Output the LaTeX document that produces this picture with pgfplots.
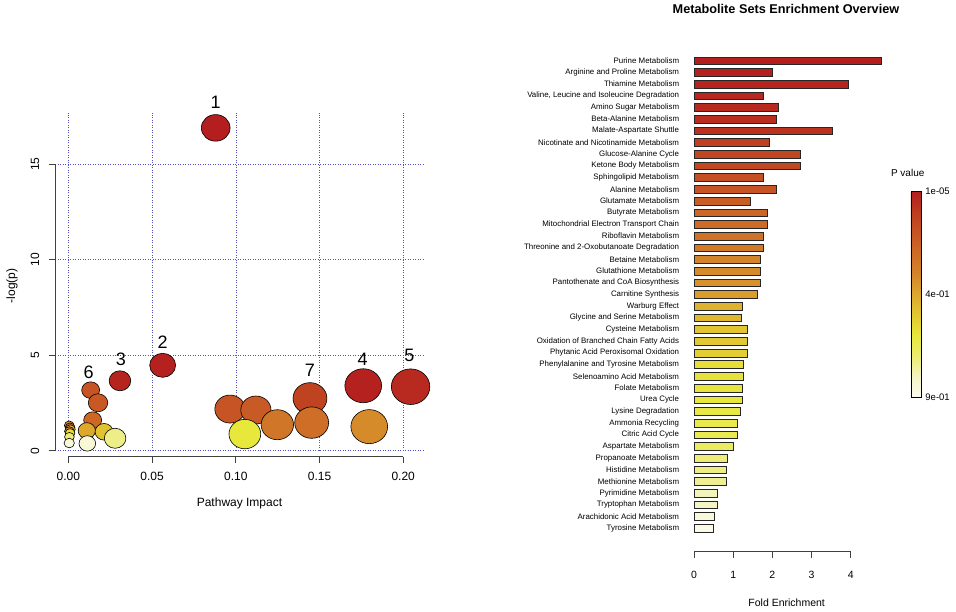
\documentclass[border=0pt]{standalone}
\usepackage{pgfplots}
\pgfplotsset{compat=1.18}
\usepackage{fontspec}
\setmainfont{Liberation Sans}
\definecolor{c0}{RGB}{253,252,240}
\definecolor{c1}{RGB}{244,244,196}
\definecolor{c2}{RGB}{236,236,112}
\definecolor{c3}{RGB}{232,232,60}
\definecolor{c4}{RGB}{226,200,50}
\definecolor{c5}{RGB}{220,168,46}
\definecolor{c6}{RGB}{212,132,42}
\definecolor{c7}{RGB}{206,108,38}
\definecolor{c8}{RGB}{198,84,36}
\definecolor{c9}{RGB}{190,60,32}
\definecolor{c10}{RGB}{180,30,30}
\definecolor{gridblue}{RGB}{80,80,200}
\pgfplotsset{colormap={pv}{rgb255=(253,252,240) rgb255=(244,244,196) rgb255=(236,236,112) rgb255=(232,232,60) rgb255=(226,200,50) rgb255=(220,168,46) rgb255=(212,132,42) rgb255=(206,108,38) rgb255=(198,84,36) rgb255=(190,60,32) rgb255=(180,30,30)}}
\pgfplotsset{B/.style={fill=#1, draw=black!85, line width=0.6pt, bar shift=0pt}}
\begin{document}
\begin{tikzpicture}
\useasboundingbox (0,0) rectangle (956pt,612pt);
% ---------------- left: pathway impact bubble plot
\begin{axis}[
  at={(55pt,161.3pt)}, anchor=south west, scale only axis,
  width=370pt, height=338.1pt,
  xmin=-0.008, xmax=0.213, ymin=0, ymax=17.7,
  clip=false,
  axis line style={draw=none},
  xtick={0,0.05,0.1,0.15,0.2}, ytick={0,5,10,15},
  grid=major,
  major grid style={gridblue, line width=0.6pt, dash pattern=on 0.9pt off 1.6pt},
  major tick length=0pt,
  /pgf/number format/assume math mode=true,
  xticklabel style={font=\fontsize{12}{14}\selectfont, anchor=center, yshift=-26pt,
    /pgf/number format/.cd, fixed, fixed zerofill, precision=2, /tikz/.cd},
  yticklabel style={font=\fontsize{12}{14}\selectfont, anchor=center, xshift=-20pt, rotate=90},
  colormap name=pv, point meta min=0, point meta max=1,
]
\addplot[scatter, only marks, mark=*, point meta=explicit,
  scatter/use mapped color={draw=black, fill=mapped color},
  visualization depends on={\thisrow{r} \as \rr},
  scatter/@pre marker code/.append style={/tikz/mark size=\rr pt, /tikz/xscale=1.08},
  mark options={line width=0.6pt}]
  table[x=x, y=y, meta=c] {
x y r c
0.0005 1.32 4.5 0.55
0.0010 1.22 4.5 0.75
0.0012 1.12 4.5 0.45
0.0006 1.02 4.5 0.62
0.0010 0.92 4.5 0.33
0.0006 0.72 4.5 0.20
0.0005 0.40 4.8 0.05
0.0133 3.17 8.3 0.80
0.0177 2.51 9.0 0.78
0.0145 1.60 8.3 0.72
0.0110 1.05 8.0 0.50
0.0213 0.99 8.3 0.42
0.0279 0.65 10 0.17
0.0113 0.38 7.7 0.06
0.0308 3.66 10 0.98
0.0563 4.47 12 0.99
0.0880 16.9 13.3 1.0
0.0965 2.18 14 0.80
0.1120 2.13 14 0.77
0.1054 0.87 14.7 0.30
0.1248 1.36 15 0.66
0.1443 2.74 15.7 0.87
0.1453 1.47 15.7 0.69
0.1761 3.40 17 0.99
0.1797 1.26 17 0.58
0.2044 3.35 17.8 0.96
};
\begin{scope}[font=\fontsize{18}{20}\selectfont]
\node at (axis cs:0.088,18.26) {1};
\node at (axis cs:0.0563,5.67) {2};
\node at (axis cs:0.0314,4.78) {3};
\node at (axis cs:0.1758,4.78) {4};
\node at (axis cs:0.2036,5.0) {5};
\node at (axis cs:0.0121,4.13) {6};
\node at (axis cs:0.1443,4.19) {7};
\end{scope}
\begin{scope}[black!75, line width=0.8pt]
\draw ([yshift=-6pt]axis cs:0,0) -- ([yshift=-6pt]axis cs:0.2,0);
\draw ([yshift=-6pt]axis cs:0,0) -- ([yshift=-12.5pt]axis cs:0,0);
\draw ([yshift=-6pt]axis cs:0.05,0) -- ([yshift=-12.5pt]axis cs:0.05,0);
\draw ([yshift=-6pt]axis cs:0.1,0) -- ([yshift=-12.5pt]axis cs:0.1,0);
\draw ([yshift=-6pt]axis cs:0.15,0) -- ([yshift=-12.5pt]axis cs:0.15,0);
\draw ([yshift=-6pt]axis cs:0.2,0) -- ([yshift=-12.5pt]axis cs:0.2,0);
\draw (axis cs:-0.008,0) -- (axis cs:-0.008,15);
\draw ([xshift=-6.5pt]axis cs:-0.008,0) -- (axis cs:-0.008,0);
\draw ([xshift=-6.5pt]axis cs:-0.008,5) -- (axis cs:-0.008,5);
\draw ([xshift=-6.5pt]axis cs:-0.008,10) -- (axis cs:-0.008,10);
\draw ([xshift=-6.5pt]axis cs:-0.008,15) -- (axis cs:-0.008,15);
\end{scope}
\end{axis}
\node[rotate=90, font=\fontsize{12}{14}\selectfont] at (12pt,326pt) {-log(p)};
\node[anchor=base, font=\fontsize{12}{14}\selectfont] at (239.5pt,105.7pt) {Pathway Impact};
% ---------------- right: enrichment overview bars
\begin{axis}[
  at={(694pt,77.85pt)}, anchor=south west, scale only axis,
  width=188pt, height=479.3pt,
  xmin=0, xmax=4.8, ymin=0.5, ymax=41.5, y dir=reverse,
  xbar, bar width=7.7pt,
  clip=false,
  axis line style={draw=none}, major tick length=0pt,
  /pgf/number format/assume math mode=true,
  xtick={0,1,2,3,4},
  xticklabel style={font=\fontsize{10.5}{12}\selectfont, anchor=center, yshift=-40.8pt},
  ytick={1,...,41},
  yticklabels={{Purine Metabolism},{Arginine and Proline Metabolism},{Thiamine Metabolism},{Valine, Leucine and Isoleucine Degradation},{Amino Sugar Metabolism},{Beta-Alanine Metabolism},{Malate-Aspartate Shuttle},{Nicotinate and Nicotinamide Metabolism},{Glucose-Alanine Cycle},{Ketone Body Metabolism},{Sphingolipid Metabolism},{Alanine Metabolism},{Glutamate Metabolism},{Butyrate Metabolism},{Mitochondrial Electron Transport Chain},{Riboflavin Metabolism},{Threonine and 2-Oxobutanoate Degradation},{Betaine Metabolism},{Glutathione Metabolism},{Pantothenate and CoA Biosynthesis},{Carnitine Synthesis},{Warburg Effect},{Glycine and Serine Metabolism},{Cysteine Metabolism},{Oxidation of Branched Chain Fatty Acids},{Phytanic Acid Peroxisomal Oxidation},{Phenylalanine and Tyrosine Metabolism},{Selenoamino Acid Metabolism},{Folate Metabolism},{Urea Cycle},{Lysine Degradation},{Ammonia Recycling},{Citric Acid Cycle},{Aspartate Metabolism},{Propanoate Metabolism},{Histidine Metabolism},{Methionine Metabolism},{Pyrimidine Metabolism},{Tryptophan Metabolism},{Arachidonic Acid Metabolism},{Tyrosine Metabolism}},
  yticklabel style={font=\fontsize{7.9}{9}\selectfont, anchor=east, inner sep=0pt, xshift=-14.7pt},
  colormap name=pv, point meta min=0, point meta max=1,
  colorbar,
  colorbar style={at={(parent axis.north east)}, anchor=north west,
    xshift=20.3pt, yshift=-136.85pt, scale only axis,
    width=10.4pt, height=205.6pt,
    ytick={0,0.5,1}, yticklabels={9e-01,4e-01,1e-05},
    major tick length=0pt,
    axis line style={black, line width=0.5pt},
    yticklabel style={font=\fontsize{9.5}{11}\selectfont, anchor=west, inner sep=0pt, xshift=4pt}},
]
\addplot[B=c10] coordinates {(4.77,1)};
\addplot[B=c10!90!c9] coordinates {(2.01,2)};
\addplot[B=c10!80!c9] coordinates {(3.94,3)};
\addplot[B=c10!70!c9] coordinates {(1.77,4)};
\addplot[B=c10!60!c9] coordinates {(2.14,5)};
\addplot[B=c10!50!c9] coordinates {(2.09,6)};
\addplot[B=c10!30!c9] coordinates {(3.54,7)};
\addplot[B=c9!80!c8] coordinates {(1.91,8)};
\addplot[B=c9!60!c8] coordinates {(2.72,9)};
\addplot[B=c9!50!c8] coordinates {(2.72,10)};
\addplot[B=c9!20!c8] coordinates {(1.78,11)};
\addplot[B=c8] coordinates {(2.09,12)};
\addplot[B=c8!60!c7] coordinates {(1.45,13)};
\addplot[B=c8!20!c7] coordinates {(1.86,14)};
\addplot[B=c7] coordinates {(1.86,15)};
\addplot[B=c7!80!c6] coordinates {(1.78,16)};
\addplot[B=c7!40!c6] coordinates {(1.78,17)};
\addplot[B=c6] coordinates {(1.69,18)};
\addplot[B=c6!80!c5] coordinates {(1.69,19)};
\addplot[B=c6!60!c5] coordinates {(1.69,20)};
\addplot[B=c6!30!c5] coordinates {(1.61,21)};
\addplot[B=c5!70!c4] coordinates {(1.23,22)};
\addplot[B=c5!50!c4] coordinates {(1.20,23)};
\addplot[B=c5!10!c4] coordinates {(1.36,24)};
\addplot[B=c4] coordinates {(1.36,25)};
\addplot[B=c4!80!c3] coordinates {(1.36,26)};
\addplot[B=c4!30!c3] coordinates {(1.27,27)};
\addplot[B=c4!20!c3] coordinates {(1.27,28)};
\addplot[B=c4!10!c3] coordinates {(1.23,29)};
\addplot[B=c3] coordinates {(1.23,30)};
\addplot[B=c3!80!c2] coordinates {(1.18,31)};
\addplot[B=c3!70!c2] coordinates {(1.11,32)};
\addplot[B=c3!60!c2] coordinates {(1.11,33)};
\addplot[B=c3!30!c2] coordinates {(1.01,34)};
\addplot[B=c2!90!c1] coordinates {(0.85,35)};
\addplot[B=c2!80!c1] coordinates {(0.83,36)};
\addplot[B=c2!60!c1] coordinates {(0.83,37)};
\addplot[B=c2!10!c1] coordinates {(0.60,38)};
\addplot[B=c1] coordinates {(0.60,39)};
\addplot[B=c1!50!c0] coordinates {(0.51,40)};
\addplot[B=c1!20!c0] coordinates {(0.49,41)};
\begin{scope}[black!75, line width=0.8pt]
\draw ([yshift=-17.55pt]axis cs:0,41.5) -- ([yshift=-17.55pt]axis cs:4,41.5);
\draw ([yshift=-17.55pt]axis cs:0,41.5) -- ([yshift=-23.8pt]axis cs:0,41.5);
\draw ([yshift=-17.55pt]axis cs:1,41.5) -- ([yshift=-23.8pt]axis cs:1,41.5);
\draw ([yshift=-17.55pt]axis cs:2,41.5) -- ([yshift=-23.8pt]axis cs:2,41.5);
\draw ([yshift=-17.55pt]axis cs:3,41.5) -- ([yshift=-23.8pt]axis cs:3,41.5);
\draw ([yshift=-17.55pt]axis cs:4,41.5) -- ([yshift=-23.8pt]axis cs:4,41.5);
\end{scope}
\end{axis}
\node[font=\bfseries\fontsize{12.7}{14}\selectfont] at (786pt,602.7pt) {Metabolite Sets Enrichment Overview};
\node[font=\fontsize{10}{12}\selectfont] at (907.7pt,439.3pt) {P value};
\node[font=\fontsize{10.5}{12}\selectfont] at (786.7pt,9.3pt) {Fold Enrichment};
\end{tikzpicture}
\end{document}
